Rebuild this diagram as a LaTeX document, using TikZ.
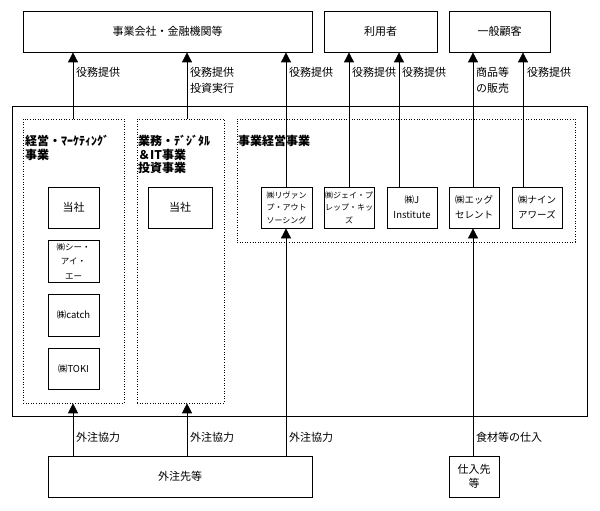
\documentclass[tikz,border=0pt]{standalone}
\usepackage{fontspec}
\setmainfont{Noto Sans CJK JP}
\usetikzlibrary{arrows.meta,shadows}
\begin{document}
\begin{tikzpicture}[x=1pt,y=-1pt,
  box/.style={draw,line width=0.8pt,inner sep=0pt,align=center,fill=white,
    drop shadow={shadow xshift=1.2pt,shadow yshift=-1.2pt,fill=gray!60,opacity=1}},
  dotbox/.style={draw,dotted,line width=0.6pt,inner sep=0pt},
  arr/.style={line width=0.8pt,-{Triangle[width=10pt,length=10pt]}},
  lbl/.style={anchor=west,inner sep=0pt,font=\fontsize{11}{16}\selectfont,align=left},
  ttl/.style={anchor=north west,inner sep=0pt,font=\fontsize{12}{13.5}\selectfont\bfseries,align=left},
  bigt/.style={font=\fontsize{11}{14}\selectfont},
  smt/.style={font=\fontsize{8}{12.5}\selectfont},
  midt/.style={font=\fontsize{8.5}{14.5}\selectfont},
  egt/.style={font=\fontsize{9.5}{15}\selectfont}]
\useasboundingbox (0,0) rectangle (600,511);
\fill[white] (0,0) rectangle (600,511);
% top boxes
\node[box,bigt,minimum width=289pt,minimum height=41pt] (top1) at (167.5,31.5) {事業会社・金融機関等};
\node[box,bigt,minimum width=113pt,minimum height=41pt] (user) at (380.5,31.5) {利用者};
\node[box,bigt,minimum width=101pt,minimum height=41pt] (cust) at (499.5,31.5) {一般顧客};
% outer box
\node[box,minimum width=575pt,minimum height=310pt] (outer) at (299.5,261) {};
% dotted boxes
\node[dotbox,minimum width=101pt,minimum height=284pt] (dl) at (73.5,261) {};
\node[dotbox,minimum width=87pt,minimum height=284pt] (dm) at (180.5,261) {};
\node[dotbox,minimum width=338pt,minimum height=123pt] (dr) at (406,180.5) {};
\node[ttl] (tl) at (25,135) {経営・ﾏｰｹﾃｨﾝｸﾞ\\事業};
\node[ttl] (tm) at (138,135) {業務・ﾃﾞｼﾞﾀﾙ\\＆IT事業\\投資事業};
\node[ttl] (tr) at (238,135) {事業経営事業};
% inner boxes
\node[box,bigt,minimum width=51pt,minimum height=41pt] (toshaL) at (73.5,207.5) {当社};
\node[box,midt,minimum width=51pt,minimum height=42pt] (cia) at (73.5,261) {㈱シー・\\アイ・\\エー};
\node[box,egt,minimum width=51pt,minimum height=42pt] (catch) at (73.5,315) {㈱catch};
\node[box,egt,minimum width=51pt,minimum height=41pt] (toki) at (73.5,368.5) {㈱TOKI};
\node[box,bigt,minimum width=64pt,minimum height=41pt] (toshaM) at (180,207.5) {当社};
\node[box,smt,minimum width=51pt,minimum height=41pt] (rev) at (286.5,207.5) {㈱リヴァン\\プ・アウト\\ソーシング};
\node[box,smt,minimum width=50pt,minimum height=41pt] (jp) at (349,207.5) {㈱ジェイ・プ\\レップ・キッ\\ズ};
\node[box,egt,minimum width=50pt,minimum height=41pt] (ji) at (412,207.5) {㈱J\\Institute};
\node[box,egt,minimum width=50pt,minimum height=41pt] (egg) at (474,207.5) {㈱エッグ\\セレント};
\node[box,egt,minimum width=50pt,minimum height=41pt] (nine) at (537,207.5) {㈱ナイン\\アワーズ};
% bottom boxes
\node[box,bigt,minimum width=264pt,minimum height=41pt] (gaichu) at (180,476.5) {外注先等};
\node[box,bigt,minimum width=50pt,minimum height=41pt] (shiire) at (474,476.5) {仕入先\\等};
% connector x positions
\coordinate (xa) at (73,0);
\coordinate (xb) at (187,0);
\coordinate (xc) at (286,0);
\coordinate (xd) at (349,0);
\coordinate (xe) at (399,0);
\coordinate (xf) at (473,0);
\coordinate (xg) at (523,0);
% upward arrows to top
\draw[arr] (dl.north -| xa) -- (top1.south -| xa);
\draw[arr] (dm.north -| xb) -- (top1.south -| xb);
\draw[arr] (rev.north -| xc) -- (top1.south -| xc);
\draw[arr] (jp.north -| xd) -- (user.south -| xd);
\draw[arr] (ji.north -| xe) -- (user.south -| xe);
\draw[arr] (egg.north -| xf) -- (cust.south -| xf);
\draw[arr] (nine.north -| xg) -- (cust.south -| xg);
% bottom arrows
\draw[arr] (gaichu.north -| xa) -- (dl.south -| xa);
\draw[arr] (gaichu.north -| xb) -- (dm.south -| xb);
\draw[arr] (gaichu.north -| xc) -- (rev.south -| xc);
\draw[arr] (shiire.north -| xf) -- (egg.south -| xf);
% labels
\node[lbl] (l1) at (76,72) {役務提供};
\node[lbl] (l2) at (190,80) {役務提供\\投資実行};
\node[lbl] (l3) at (289,72) {役務提供};
\node[lbl] (l4) at (352,72) {役務提供};
\node[lbl] (l5) at (402,72) {役務提供};
\node[lbl] (l6) at (476,80) {商品等\\の販売};
\node[lbl] (l7) at (527,72) {役務提供};
\node[lbl] (b1) at (76,437) {外注協力};
\node[lbl] (b2) at (190,437) {外注協力};
\node[lbl] (b3) at (289,437) {外注協力};
\node[lbl] (b4) at (476,437) {食材等の仕入};
\end{tikzpicture}
\end{document}
